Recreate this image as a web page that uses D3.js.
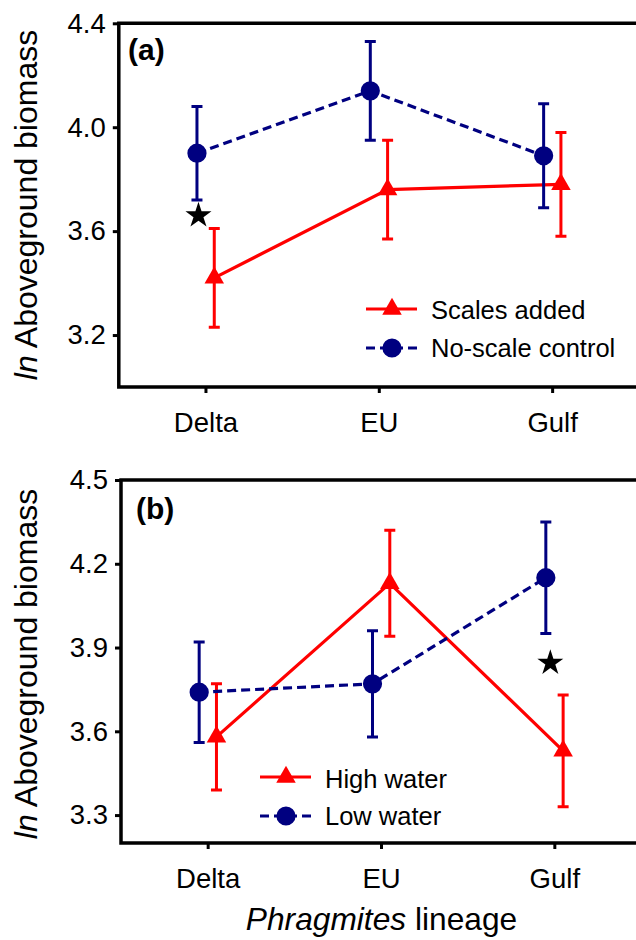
<!DOCTYPE html>
<html>
<head>
<meta charset="utf-8">
<script src="https://cdn.jsdelivr.net/npm/d3@7"></script>
<style>
  body { margin: 0; background: #fff; }
  svg { display: block; font-family: "Liberation Sans", Arial, sans-serif; }
</style>
</head>
<body>
<svg id="chart" width="636" height="940"></svg>
<script>
// ---------- data ----------
const categories = ["Delta", "EU", "Gulf"];

// Panel (a)
const aTicks = [3.2, 3.6, 4.0, 4.4];
const aScalesMean = [3.42, 3.76, 3.78];
const aScalesErr  = [0.19, 0.19, 0.20];
const aControlMean = [3.90, 4.14, 3.89];
const aControlErr  = [0.18, 0.19, 0.20];
const aStar = { cat: "Delta", value: 3.66 };

// Panel (b)
const bTicks = [3.3, 3.6, 3.9, 4.2, 4.5];
const bHighMean = [3.58, 4.13, 3.53];
const bHighErr  = [0.19, 0.19, 0.20];
const bLowMean  = [3.74, 3.77, 4.15];
const bLowErr   = [0.18, 0.19, 0.20];
const bStar = { cat: "Gulf", value: 3.845 };

const RED = "#ff0000", BLUE = "#000080";

const svg = d3.select("#chart");

function panel(cfg) {
  const g = svg.append("g");
  const x = d3.scalePoint().domain(categories).range([cfg.left, cfg.left + 520]).padding(0.5);
  const y = d3.scaleLinear().domain(cfg.domain).range([cfg.bottom, cfg.top]);

  // axes
  const yAxis = d3.axisLeft(y).tickValues(cfg.ticks).tickFormat(d3.format(".1f"))
    .tickSize(6).tickSizeOuter(0).tickPadding(7);
  const xAxis = d3.axisBottom(x).tickSize(6).tickSizeOuter(0).tickPadding(19.5);

  const ya = g.append("g").attr("transform", `translate(${cfg.left},0)`).call(yAxis);
  const xa = g.append("g").attr("transform", `translate(0,${cfg.bottom})`).call(xAxis);
  [ya, xa].forEach(a => {
    a.select(".domain").remove();
    a.selectAll(".tick line").attr("stroke", "#000").attr("stroke-width", 3);
    a.selectAll(".tick text").attr("fill", "#000").style("font-size", "27.5px");
  });

  // frame
  g.append("path")
    .attr("d", `M${x.range()[1] + 1},${y.range()[1]} H${cfg.left} V${cfg.bottom} H${x.range()[1] + 1}`)
    .attr("fill", "none").attr("stroke", "#000").attr("stroke-width", 3.5);

  // series
  cfg.series.forEach(s => {
    const pts = categories.map((c, i) => ({ x: x(c) + s.dx, m: s.mean[i], e: s.err[i] }));
    g.append("path")
      .attr("d", d3.line().x(d => d.x).y(d => y(d.m))(pts))
      .attr("fill", "none").attr("stroke", s.color).attr("stroke-width", 3.2)
      .attr("stroke-dasharray", s.dash || null);
    const eb = g.append("g").attr("stroke", s.color).attr("stroke-width", 3).attr("fill", "none");
    pts.forEach(d => {
      eb.append("path").attr("d",
        `M${d.x},${y(d.m + d.e)} V${y(d.m - d.e)} M${d.x - 5.5},${y(d.m + d.e)} H${d.x + 5.5} M${d.x - 5.5},${y(d.m - d.e)} H${d.x + 5.5}`);
    });
    g.selectAll(null).data(pts).join("path")
      .attr("transform", d => `translate(${d.x},${y(d.m)})`)
      .attr("d", d3.symbol(s.symbol, s.size)())
      .attr("fill", s.color);
  });

  // significance star
  g.append("path")
    .attr("transform", `translate(${x(cfg.star.cat) + cfg.starDx},${y(cfg.star.value)})`)
    .attr("d", d3.symbol(d3.symbolStar, 210)())
    .attr("fill", "#000");

  // legend
  cfg.series.forEach((s, i) => {
    const ly = cfg.legend.y[i];
    g.append("line").attr("x1", cfg.legend.x).attr("x2", cfg.legend.x + 51)
      .attr("y1", ly).attr("y2", ly)
      .attr("stroke", s.color).attr("stroke-width", 3.2).attr("stroke-dasharray", s.dash || null);
    g.append("path").attr("transform", `translate(${cfg.legend.x + 26},${ly})`)
      .attr("d", d3.symbol(s.symbol, s.size)()).attr("fill", s.color);
    g.append("text").attr("x", cfg.legend.x + 65).attr("y", cfg.legend.base[i])
      .style("font-size", "25.5px").attr("fill", "#000").text(s.name);
  });

  // panel label
  g.append("text").attr("x", cfg.label.x).attr("y", cfg.label.y)
    .style("font-size", "30px").style("font-weight", "bold").text(cfg.label.text);

  // y title
  const yt = g.append("text")
    .attr("transform", `translate(37,${cfg.titleY}) rotate(-90)`)
    .attr("text-anchor", "middle").style("font-size", "32px");
  yt.append("tspan").style("font-style", "italic").text("ln");
  yt.append("tspan").text(" Aboveground biomass");
}

panel({
  left: 118.8, top: 23.3, bottom: 387, domain: [3.0, 4.4], ticks: aTicks,
  series: [
    { name: "Scales added", mean: aScalesMean, err: aScalesErr, color: RED, dx: 8.8, symbol: d3.symbolTriangle, size: 165 },
    { name: "No-scale control", mean: aControlMean, err: aControlErr, color: BLUE, dx: -8.5, dash: "9,5", symbol: d3.symbolCircle, size: 290 }
  ],
  star: aStar, starDx: -7,
  legend: { x: 366, y: [309, 348], base: [318.5, 356.5] },
  label: { x: 128, y: 60, text: "(a)" },
  titleY: 205
});

panel({
  left: 121, top: 480, bottom: 843, domain: [3.2, 4.5], ticks: bTicks,
  series: [
    { name: "High water", mean: bHighMean, err: bHighErr, color: RED, dx: 8.8, symbol: d3.symbolTriangle, size: 165 },
    { name: "Low water", mean: bLowMean, err: bLowErr, color: BLUE, dx: -8.5, dash: "9,5", symbol: d3.symbolCircle, size: 290 }
  ],
  star: bStar, starDx: -4,
  legend: { x: 260, y: [777, 816], base: [787.5, 824.5] },
  label: { x: 136, y: 519, text: "(b)" },
  titleY: 664
});

// x axis title
const xt = svg.append("text").attr("x", 381.5).attr("y", 929.5)
  .attr("text-anchor", "middle").style("font-size", "31.7px");
xt.append("tspan").style("font-style", "italic").text("Phragmites");
xt.append("tspan").text(" lineage");
</script>
</body>
</html>
